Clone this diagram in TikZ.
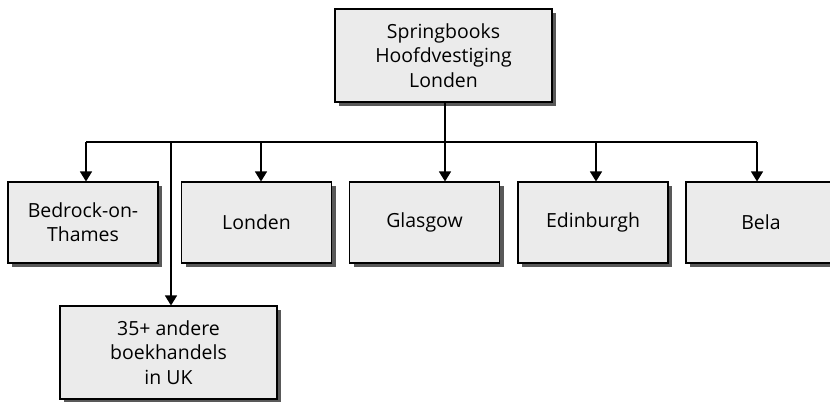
\documentclass[tikz,border=0pt]{standalone}
\usepackage{fontspec}
\setmainfont{Open Sans}
\usetikzlibrary{arrows.meta,shadows,calc}

\begin{document}
\begin{tikzpicture}[x=0.75pt, y=-0.75pt,
    box/.style={draw, line width=0.8pt, fill=black!8, align=center,
        minimum width=112.5pt, minimum height=60.75pt, inner sep=2pt,
        font=\fontsize{14.6}{18.2}\selectfont,
        drop shadow={shadow xshift=3pt, shadow yshift=-3pt, fill=black!65, opacity=1}},
    bigbox/.style={box, minimum width=162.75pt, minimum height=69.75pt},
    line/.style={draw, line width=0.9pt},
    arr/.style={line, -{Triangle[width=9pt,length=7.5pt]}}]
    \useasboundingbox (0,0) rectangle (830,402);
    % boxes
    \node[bigbox](hq)at(443.5,55.5){Springbooks\\Hoofdvestiging\\Londen};
    \node[box](bedrock)at(83,222.5){Bedrock-on-\\Thames};
    \node[box](londen)at(256.5,222.5){Londen};
    \node[box](glasgow)at(424.5,222.5){Glasgow};
    \node[box](edinburgh)at(593,222.5){Edinburgh};
    \node[box](bela)at(761,222.5){Bela};
    \node[bigbox](overig)at(168.5,352.5){35+ andere\\boekhandels\\in UK};
    % bus
    \coordinate(b1)at(86,142);
    \coordinate(b2)at(261,142);
    \coordinate(b3)at(445,142);
    \coordinate(b4)at(596,142);
    \coordinate(b5)at(757,142);
    \coordinate(b0)at(171,142);
    \path[line](hq.south -| b3)to(b3);
    \path[line](b1)to(b5);
    % arrows
    \path[arr](b1)to(b1 |- bedrock.north);
    \path[arr](b2)to(b2 |- londen.north);
    \path[arr](b3)to(b3 |- glasgow.north);
    \path[arr](b4)to(b4 |- edinburgh.north);
    \path[arr](b5)to(b5 |- bela.north);
    \path[arr](b0)to(b0 |- overig.north);
\end{tikzpicture}
\end{document}
